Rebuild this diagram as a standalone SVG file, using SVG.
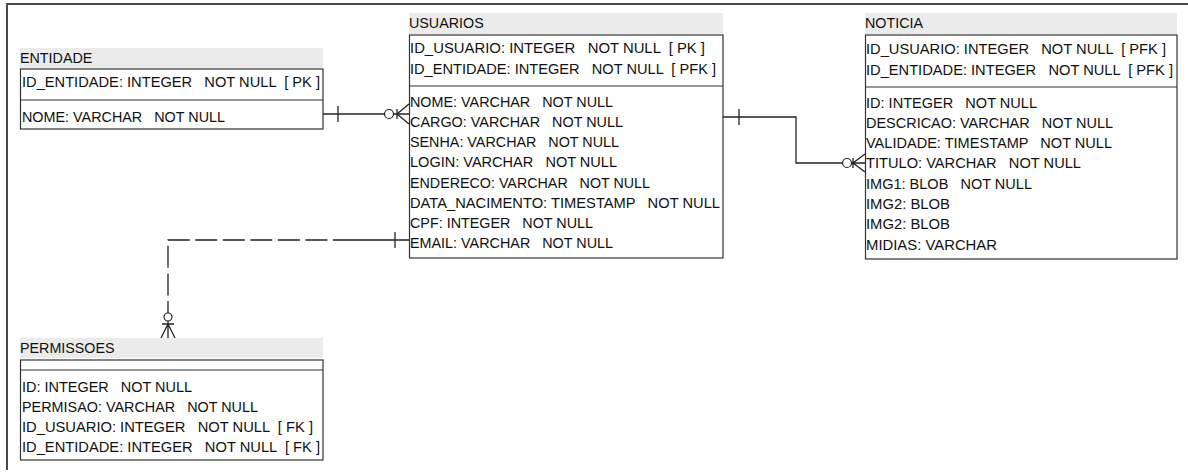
<svg xmlns="http://www.w3.org/2000/svg" width="1188" height="473" viewBox="0 0 1188 473">
<style>
text { font-family: "Liberation Sans", Arial, sans-serif; font-size: 14.3px; fill: #111; white-space: pre; }
.band { fill: #ebebeb; stroke: none; }
.box { fill: #fff; stroke: #333; stroke-width: 1.2; }
.sep { stroke: #333; stroke-width: 1.2; }
.ln { fill: none; stroke: #222; stroke-width: 1.3; }
.dash { fill: none; stroke: #222; stroke-width: 1.3; stroke-dasharray: 22 5.55; }
.circ { fill: #fff; stroke: #222; stroke-width: 1.2; }
.frame { stroke: #4a4a4a; stroke-width: 2; fill: none; }
</style>
<rect width="1188" height="473" fill="#fff"/>
<path class="frame" d="M7,470 V4 H1188"/>

<g id="connectors">
  <!-- ENTIDADE -> USUARIOS -->
  <path class="ln" d="M323,114 H409"/>
  <path class="ln" d="M338,106 V122"/>
  <circle class="circ" cx="389" cy="114" r="4.5"/>
  <path class="ln" d="M397,109 V119 M397,114 L409,104 M397,114 L409,124"/>
  <!-- USUARIOS -> NOTICIA -->
  <path class="ln" d="M723,117 H796 V163 H865"/>
  <path class="ln" d="M739,109 V125"/>
  <circle class="circ" cx="847" cy="163" r="4.5"/>
  <path class="ln" d="M853,158 V168 M853,163 L865,154 M853,163 L865,172"/>
  <!-- USUARIOS -> PERMISSOES (dashed) -->
  <path class="ln" d="M355,240 H409"/>
  <path class="ln" d="M395,232 V248"/>
  <path class="dash" d="M355,240 H168 V313"/>
  <circle class="circ" cx="168" cy="317" r="4"/>
  <path class="ln" d="M168,321 V338 M162,324 H174 M168,324 L161,338 M168,324 L175,338"/>
</g>

<g id="entidade">
  <rect class="band" x="20" y="48" width="303" height="20"/>
  <text x="20" y="63">ENTIDADE</text>
  <rect class="box" x="20.5" y="69" width="302.5" height="60"/>
  <line class="sep" x1="20.5" y1="100" x2="323" y2="100"/>
  <text x="22" y="87" textLength="298" lengthAdjust="spacingAndGlyphs">ID_ENTIDADE: INTEGER   NOT NULL  [ PK ]</text>
  <text x="22" y="122" textLength="203" lengthAdjust="spacingAndGlyphs">NOME: VARCHAR   NOT NULL</text>
</g>

<g id="usuarios">
  <rect class="band" x="409" y="13" width="314" height="21"/>
  <text x="409" y="28">USUARIOS</text>
  <rect class="box" x="409.5" y="35" width="313.5" height="223"/>
  <line class="sep" x1="409.5" y1="86" x2="723" y2="86"/>
  <text x="410" y="53" textLength="295" lengthAdjust="spacingAndGlyphs">ID_USUARIO: INTEGER   NOT NULL  [ PK ]</text>
  <text x="410" y="74" textLength="306" lengthAdjust="spacingAndGlyphs">ID_ENTIDADE: INTEGER   NOT NULL  [ PFK ]</text>
  <text x="410" y="107" textLength="203" lengthAdjust="spacingAndGlyphs">NOME: VARCHAR   NOT NULL</text>
  <text x="410" y="127" textLength="213" lengthAdjust="spacingAndGlyphs">CARGO: VARCHAR   NOT NULL</text>
  <text x="410" y="147" textLength="209" lengthAdjust="spacingAndGlyphs">SENHA: VARCHAR   NOT NULL</text>
  <text x="410" y="167" textLength="207" lengthAdjust="spacingAndGlyphs">LOGIN: VARCHAR   NOT NULL</text>
  <text x="410" y="188" textLength="240" lengthAdjust="spacingAndGlyphs">ENDERECO: VARCHAR   NOT NULL</text>
  <text x="410" y="208" textLength="310" lengthAdjust="spacingAndGlyphs">DATA_NACIMENTO: TIMESTAMP   NOT NULL</text>
  <text x="410" y="228" textLength="183" lengthAdjust="spacingAndGlyphs">CPF: INTEGER   NOT NULL</text>
  <text x="410" y="248" textLength="203" lengthAdjust="spacingAndGlyphs">EMAIL: VARCHAR   NOT NULL</text>
</g>

<g id="noticia">
  <rect class="band" x="865" y="13" width="312" height="21"/>
  <text x="865" y="28">NOTICIA</text>
  <rect class="box" x="865.5" y="35" width="311.5" height="224"/>
  <line class="sep" x1="865.5" y1="87" x2="1177" y2="87"/>
  <text x="866" y="54" textLength="300" lengthAdjust="spacingAndGlyphs">ID_USUARIO: INTEGER   NOT NULL  [ PFK ]</text>
  <text x="866" y="75" textLength="307" lengthAdjust="spacingAndGlyphs">ID_ENTIDADE: INTEGER   NOT NULL  [ PFK ]</text>
  <text x="866" y="108" textLength="171" lengthAdjust="spacingAndGlyphs">ID: INTEGER   NOT NULL</text>
  <text x="866" y="128" textLength="247" lengthAdjust="spacingAndGlyphs">DESCRICAO: VARCHAR   NOT NULL</text>
  <text x="866" y="148" textLength="246" lengthAdjust="spacingAndGlyphs">VALIDADE: TIMESTAMP   NOT NULL</text>
  <text x="866" y="168" textLength="215" lengthAdjust="spacingAndGlyphs">TITULO: VARCHAR   NOT NULL</text>
  <text x="866" y="189" textLength="166" lengthAdjust="spacingAndGlyphs">IMG1: BLOB   NOT NULL</text>
  <text x="866" y="209" textLength="84" lengthAdjust="spacingAndGlyphs">IMG2: BLOB</text>
  <text x="866" y="229" textLength="84" lengthAdjust="spacingAndGlyphs">IMG2: BLOB</text>
  <text x="866" y="250" textLength="131" lengthAdjust="spacingAndGlyphs">MIDIAS: VARCHAR</text>
</g>

<g id="permissoes">
  <rect class="band" x="20" y="338" width="303" height="20"/>
  <text x="20" y="353">PERMISSOES</text>
  <rect class="box" x="20.5" y="360" width="302.5" height="100"/>
  <line class="sep" x1="20.5" y1="370" x2="323" y2="370"/>
  <text x="22" y="392" textLength="170" lengthAdjust="spacingAndGlyphs">ID: INTEGER   NOT NULL</text>
  <text x="22" y="412" textLength="236" lengthAdjust="spacingAndGlyphs">PERMISAO: VARCHAR   NOT NULL</text>
  <text x="22" y="432" textLength="291" lengthAdjust="spacingAndGlyphs">ID_USUARIO: INTEGER   NOT NULL  [ FK ]</text>
  <text x="22" y="452" textLength="298" lengthAdjust="spacingAndGlyphs">ID_ENTIDADE: INTEGER   NOT NULL  [ FK ]</text>
</g>
</svg>
